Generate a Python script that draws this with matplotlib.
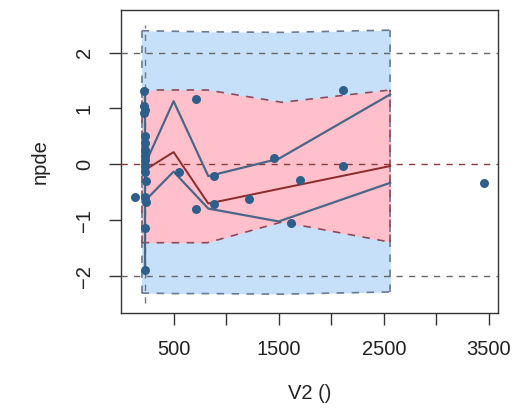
import matplotlib
matplotlib.use("Agg")
import matplotlib.pyplot as plt
import numpy as np

plt.rcParams['font.family'] = ['Liberation Sans', 'DejaVu Sans']

# observed npde values against covariate V2
obs_x = [133, 218, 222, 226, 220, 224, 228, 230, 225, 232, 227, 229, 233, 231, 235, 228, 230,
         547, 717, 717, 884, 884, 1222, 1459, 1617, 1703, 2107, 2107, 3449]
obs_y = [-0.58, 1.31, 1.05, 0.97, 0.92, 0.50, 0.38, 0.25, 0.15, 0.07, -0.03, -0.14, -0.30,
         -0.58, -0.67, -1.13, -1.89,
         -0.13, 1.17, -0.79, -0.20, -0.71, -0.61, 0.12, -1.05, -0.28, 1.33, -0.03, -0.34]

# observed percentiles per bin
bin_x = [228, 500, 830, 1500, 2560]
obs_hi = [0.00, 1.13, -0.21, 0.10, 1.25]
obs_med = [-0.10, 0.22, -0.70, -0.44, -0.03]
obs_lo = [-0.65, -0.13, -0.79, -1.02, -0.33]

# prediction intervals
band_x = [196, 500, 822, 1530, 2562]
pi_hi_top = [2.39, 2.38, 2.37, 2.36, 2.40]
pi_hi_bot = [1.33, 1.33, 1.33, 1.11, 1.33]
pi_lo_top = [-1.40, -1.40, -1.40, -1.03, -1.39]
pi_lo_bot = [-2.30, -2.31, -2.31, -2.32, -2.28]

fig = plt.figure(figsize=(5.15, 4.17), dpi=100)
ax = fig.add_axes([0.235, 0.249, 0.732, 0.727])

dash = (0, (4.5, 4.5))
ax.fill_between(band_x, pi_lo_bot, pi_hi_top, color='#c6e0fa', lw=0, zorder=1)
ax.fill_between(band_x, pi_lo_top, pi_hi_bot, color='#ffc0cb', lw=0, zorder=2)
ax.plot(band_x, pi_hi_top, color='#6a7a92', lw=1.2, ls=dash, zorder=3)
ax.plot(band_x, pi_lo_bot, color='#6a7a92', lw=1.2, ls=dash, zorder=3)
ax.plot([band_x[0]] * 2, [pi_lo_bot[0], pi_hi_top[0]], color='#6a7a92', lw=1.2, ls=dash, zorder=3)
ax.plot([band_x[-1]] * 2, [pi_lo_bot[-1], pi_hi_top[-1]], color='#6a7a92', lw=1.2, ls=dash, zorder=3)
ax.plot(band_x, pi_hi_bot, color='#8b4a5a', lw=1.2, ls=dash, zorder=3)
ax.plot(band_x, pi_lo_top, color='#8b4a5a', lw=1.2, ls=dash, zorder=3)
ax.plot([band_x[0]] * 2, [pi_lo_top[0], pi_hi_bot[0]], color='#8b4a5a', lw=1.2, ls=dash, zorder=3)
ax.plot([band_x[-1]] * 2, [pi_lo_top[-1], pi_hi_bot[-1]], color='#8b4a5a', lw=1.2, ls=dash, zorder=3)

ax.axhline(2, color='#666666', lw=1, ls=dash, zorder=3)
ax.axhline(-2, color='#666666', lw=1, ls=dash, zorder=3)
ax.axhline(0, color='#8b3a3a', lw=1, ls=dash, zorder=3)
ax.plot([bin_x[0]] * 2, [-2.47, 2.50], color='#777777', lw=1, ls=dash, zorder=3)

ax.plot([bin_x[0]] * 2, [min(obs_y[1:17]), max(obs_y[1:17])], color='#4a6688', lw=1.6, zorder=4)
ax.plot(bin_x, obs_hi, color='#4a6688', lw=1.6, zorder=4)
ax.plot(bin_x, obs_lo, color='#4a6688', lw=1.6, zorder=4)
ax.plot(bin_x, obs_med, color='#8b2a2a', lw=1.4, zorder=4)
ax.scatter(obs_x, obs_y, s=42, color='#2e5e8a', lw=0, zorder=5)

ax.set_xlim(0, 3586)
ax.set_ylim(-2.66, 2.76)
ax.set_xticks([500, 1000, 1500, 2000, 2500, 3000, 3500])
ax.set_xticklabels(['500', '', '1500', '', '2500', '', '3500'])
ax.set_yticks([-2, -1, 0, 1, 2])
ax.set_yticklabels(['\u22122', '\u22121', '0', '1', '2'], rotation=90, va='center')
ax.tick_params(length=8.6, width=1, colors='#333333', labelcolor='#222222', labelsize=14.5, pad=11)
for s in ax.spines.values():
    s.set_color('#333333')
    s.set_linewidth(1)
ax.set_xlabel('V2 ()', fontsize=14.5, color='#222222', labelpad=18)
ax.set_ylabel('npde', fontsize=14.5, color='#222222', labelpad=18)

fig.savefig('out.png', dpi=100)
